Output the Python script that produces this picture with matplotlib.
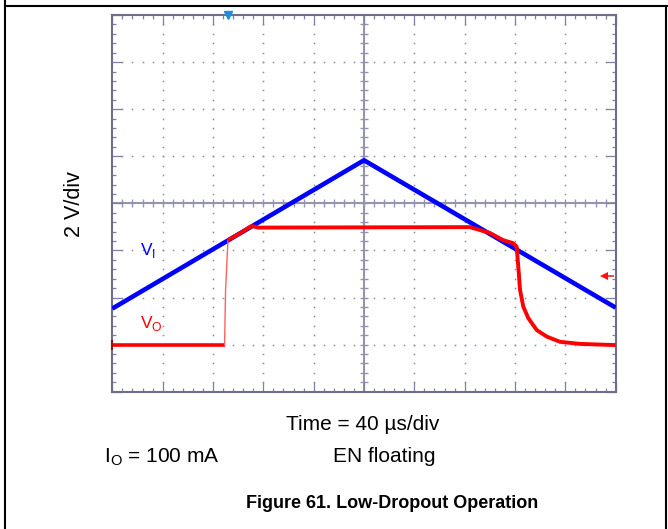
import matplotlib
matplotlib.use('Agg')
import matplotlib.pyplot as plt
from matplotlib.lines import Line2D
import numpy as np

plt.rcParams['font.family'] = ['Liberation Sans', 'DejaVu Sans']
plt.rcParams['mathtext.fontset'] = 'custom'
plt.rcParams['mathtext.rm'] = 'Liberation Sans'

# scope trace, time in us (40 us/div), voltage in V (2 V/div, screen centre = 0)
vi_t = [0, 200, 400]
vi_v = [-4.47, 1.83, -4.43]

vo_t = [0, 89.2, 90.0, 91.9, 101.5, 110.8, 116.0, 284.2, 300.1, 310.4, 318.4, 321.3,
        322.6, 324.0, 326.6, 330.6, 337.2, 345.2, 355.7, 371.6, 400]
vo_v = [-6.02, -6.02, -3.70, -1.56, -1.27, -0.96, -1.03, -1.01, -1.26, -1.56, -1.69, -1.84,
        -2.69, -3.68, -4.39, -4.88, -5.38, -5.66, -5.88, -5.97, -6.02]

trig_t = 92.0
trig_v = -3.09

W, H = 668, 529
fig = plt.figure(figsize=(W / 100, H / 100), dpi=100)
fig.patch.set_facecolor('white')

# page border lines
fig.add_artist(Line2D([5 / W, 1], [1 - 6 / H, 1 - 6 / H], color='black', lw=1.5))
fig.add_artist(Line2D([5 / W, 5 / W], [0, 1], color='black', lw=1.5))
fig.add_artist(Line2D([666 / W, 666 / W], [0, 1 - 6 / H], color='black', lw=1.5))

ax = fig.add_axes([112.3 / W, 1 - 391.7 / H, 503.4 / W, 376.7 / H])
ax.set_xlim(0, 400)
ax.set_ylim(-8, 8)

gridc = '#8a8aa6'
framec = '#6e6e8a'
tickc = '#8080a0'
for s in ax.spines.values():
    s.set_color(framec)
    s.set_linewidth(1.5)

ax.set_xticks(np.arange(0, 401, 40))
ax.set_yticks(np.arange(-8, 8.1, 2))
ax.set_xticks(np.arange(0, 401, 8), minor=True)
ax.set_yticks(np.arange(-8, 8.1, 0.4), minor=True)
ax.tick_params(which='both', direction='in', top=True, right=True,
               labelbottom=False, labelleft=False, color=tickc, width=0.9)
ax.tick_params(which='major', length=7)
ax.tick_params(which='minor', length=3.2)

# dotted graticule
minor_t = np.arange(8, 400, 8)
minor_v = np.arange(-7.6, 7.7, 0.4)
for v in [-6, -4, -2, 2, 4, 6]:
    ax.plot(minor_t, np.full(len(minor_t), v), ls='none', marker='s', ms=1.1,
            mew=0, color=gridc, zorder=1)
for t in [40, 80, 120, 160, 240, 280, 320, 360]:
    ax.plot(np.full(len(minor_v), t), minor_v, ls='none', marker='s', ms=1.1,
            mew=0, color=gridc, zorder=1)

# centre cross with ticks
cc = '#9494b0'
ax.axhline(0, color=cc, lw=1.5, zorder=1)
ax.axvline(200, color=cc, lw=1.5, zorder=1)
ax.plot(minor_t, np.zeros(len(minor_t)), ls='none', marker='|', ms=6, mew=1.0, color=cc, zorder=1)
ax.plot(np.full(len(minor_v), 200), minor_v, ls='none', marker='_', ms=6, mew=1.0, color=cc, zorder=1)

# traces
ax.plot(vi_t, vi_v, color='#0000ff', lw=3.3, solid_capstyle='butt', zorder=3)
ax.plot(vo_t[:2], vo_v[:2], color='#ff0000', lw=2.6, solid_capstyle='butt', zorder=4)
ax.plot(vo_t[1:4], vo_v[1:4], color='#ff6060', lw=1.0, zorder=4)
ax.plot(vo_t[3:], vo_v[3:], color='#ff0000', lw=2.8, solid_capstyle='butt', zorder=4)

# markers
ax.plot([trig_t], [8], marker='v', ms=6, color='#1c8fd6', clip_on=False, zorder=5)
ax.plot([392.0, 398.0], [trig_v, trig_v], color='#ff4040', lw=1.4, zorder=5)
ax.plot([391.0], [trig_v], marker='<', ms=6, mew=0, color='#ff1010', zorder=5)
ax.plot([0], [-6.02], marker='|', ms=7, mew=1.5, color='#a01010', clip_on=False, zorder=5)

ax.text(22, -2.2, r'V$_{\mathregular{I}}$', color='#0000ff', fontsize=12.5, va='baseline')
ax.text(22, -5.3, r'V$_{\mathregular{O}}$', color='#ff0000', fontsize=12.5, va='baseline')

fig.text(75 / W, 1 - 204 / H, '2 V/div', rotation=90, ha='center', va='center', fontsize=15.5)
fig.text(363 / W, 1 - 425 / H, 'Time = 40 µs/div', ha='center', va='center', fontsize=15)
fig.text(104 / W, 1 - 457 / H, r'I$_{\mathregular{O}}$ = 100 mA', ha='left', va='center', fontsize=15)
fig.text(384 / W, 1 - 457 / H, 'EN floating', ha='center', va='center', fontsize=15)
fig.text(392 / W, 1 - 503 / H, 'Figure 61. Low-Dropout Operation', ha='center', va='center',
         fontsize=13, fontweight='bold')

fig.savefig('out.png', dpi=100)
